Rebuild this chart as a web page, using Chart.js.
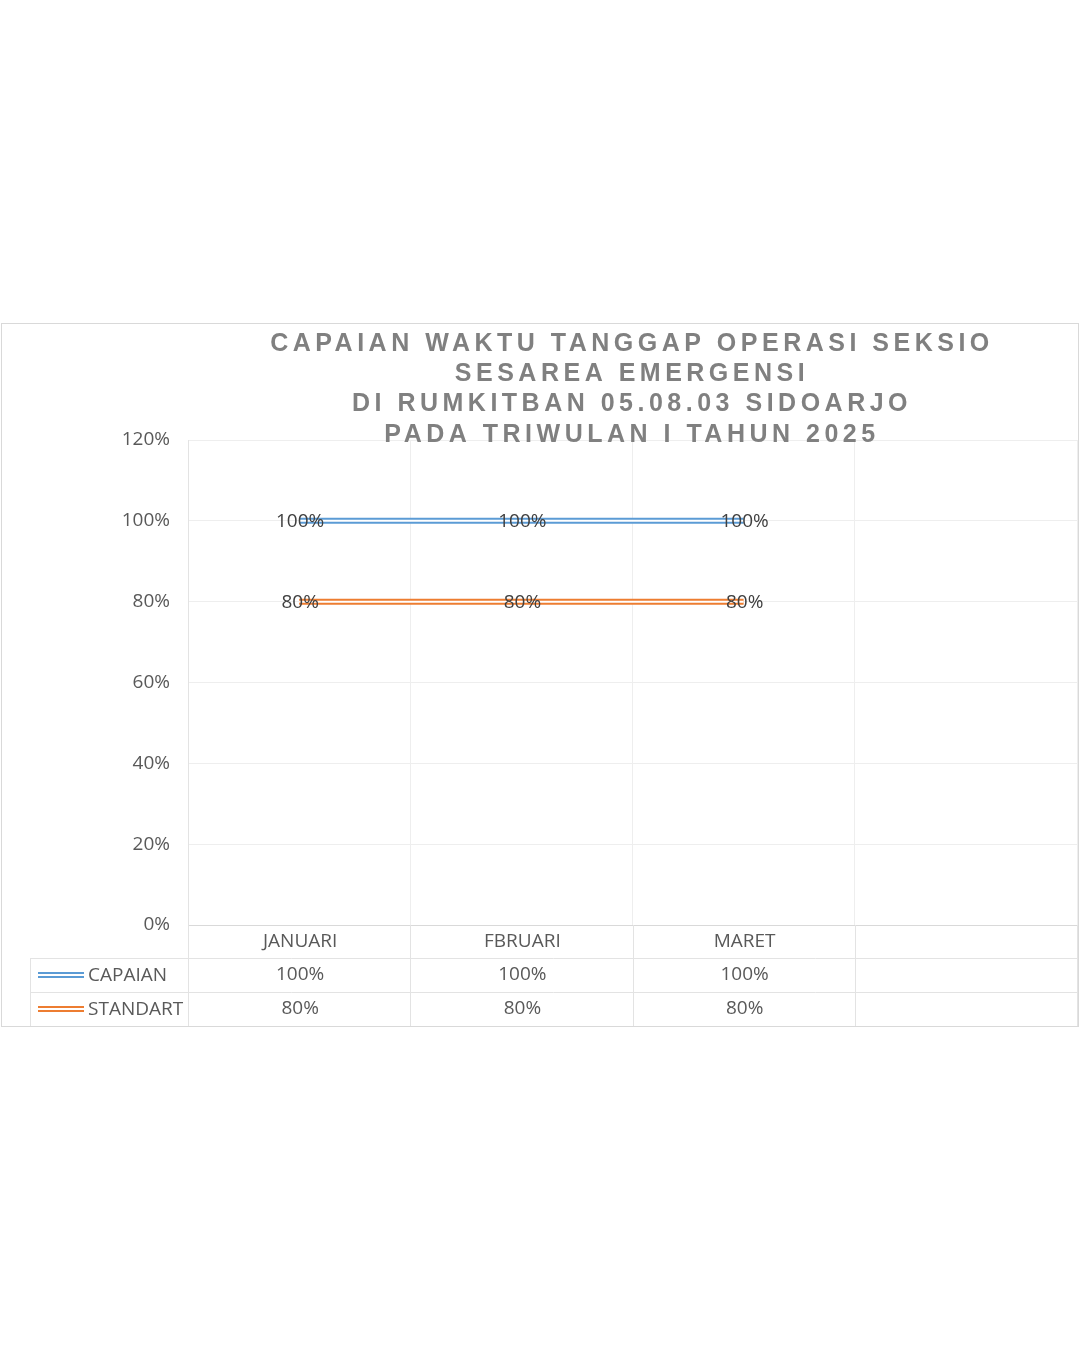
<!DOCTYPE html>
<html>
<head>
<meta charset="utf-8">
<script src="https://cdn.jsdelivr.net/npm/chart.js@4"></script>
<style>
    body { margin: 0; background: #fff; width: 1080px; height: 1350px; position: relative; }
    #box { position: absolute; left: 1px; top: 323px; width: 1078px; height: 704px; border: 1px solid #d9d9d9; box-sizing: border-box; }
</style>
</head>
<body>
<div id="box"><canvas id="waktuChart"></canvas></div>
<script>
const titleLines = [
    'CAPAIAN WAKTU TANGGAP OPERASI SEKSIO',
    'SESAREA EMERGENSI',
    'DI RUMKITBAN 05.08.03 SIDOARJO',
    'PADA TRIWULAN I TAHUN 2025'
];
const months = ['JANUARI', 'FBRUARI', 'MARET', ''];
const capaian = [100, 100, 100, null];
const standart = [80, 80, 80, null];
const yTicks = [0, 20, 40, 60, 80, 100, 120];

const seriesNames = ['CAPAIAN', 'STANDART'];
const seriesColors = ['#5b9bd5', '#ed7d31'];
const textFont = '"Open Sans", sans-serif';
const lineGrey = '#e3e3e3';

// Excel style double line + value labels centred on the points
const doubleLinePlugin = {
    id: 'doubleLine',
    afterDatasetsDraw(chart) {
        const ctx = chart.ctx;
        chart.data.datasets.forEach((ds, i) => {
            const pts = chart.getDatasetMeta(i).data.filter((p, j) => ds.data[j] !== null);
            ctx.save();
            ctx.strokeStyle = '#ffffff';
            ctx.lineWidth = 2;
            ctx.beginPath();
            pts.forEach((p, j) => j === 0 ? ctx.moveTo(p.x, p.y) : ctx.lineTo(p.x, p.y));
            ctx.stroke();
            ctx.restore();
        });
        chart.data.datasets.forEach((ds, i) => {
            const meta = chart.getDatasetMeta(i);
            ctx.save();
            ctx.font = '19px ' + textFont;
            ctx.fillStyle = '#404040';
            ctx.textAlign = 'center';
            ctx.textBaseline = 'middle';
            meta.data.forEach((p, j) => {
                if (ds.data[j] === null) return;
                ctx.fillText(ds.data[j] + '%', p.x + 1, p.y + 1);
            });
            ctx.restore();
        });
    }
};

// title with letter spacing and data table below the plot
const tablePlugin = {
    id: 'dataTable',
    afterDraw(chart) {
        const ctx = chart.ctx;
        const area = chart.chartArea;
        const x = chart.scales.x;
        const colW = area.width / months.length;
        const rowTop = area.bottom;
        const rowH = [33, 34, 34];
        const legendLeft = 28;

        ctx.save();
        ctx.font = 'bold 25px "Liberation Sans", Arial, sans-serif';
        ctx.fillStyle = '#808080';
        ctx.letterSpacing = '4.5px';
        ctx.textAlign = 'center';
        ctx.textBaseline = 'middle';
        titleLines.forEach((t, i) => ctx.fillText(t, 630, 20 + i * 30.3));
        ctx.restore();

        ctx.save();
        ctx.strokeStyle = lineGrey;
        ctx.lineWidth = 1;
        // horizontal rules
        let y = rowTop;
        const ys = [y];
        rowH.forEach(h => { y += h; ys.push(y); });
        ctx.beginPath();
        ctx.moveTo(legendLeft, ys[1] + 0.5); ctx.lineTo(area.right, ys[1] + 0.5);
        ctx.moveTo(legendLeft, ys[2] + 0.5); ctx.lineTo(area.right, ys[2] + 0.5);
        // vertical rules
        for (let i = 0; i <= months.length; i++) {
            const vx = Math.round(area.left + i * colW) + 0.5;
            ctx.moveTo(vx, rowTop); ctx.lineTo(vx, ys[3]);
        }
        ctx.moveTo(legendLeft + 0.5, ys[1]); ctx.lineTo(legendLeft + 0.5, ys[3]);
        ctx.stroke();

        ctx.font = '19px ' + textFont;
        ctx.fillStyle = '#595959';
        ctx.textAlign = 'center';
        ctx.textBaseline = 'middle';
        months.forEach((m, i) => {
            const cx = x.getPixelForValue(i) + 1;
            ctx.fillText(m, cx, (ys[0] + ys[1]) / 2);
            if (capaian[i] !== null) ctx.fillText(capaian[i] + '%', cx, (ys[1] + ys[2]) / 2);
            if (standart[i] !== null) ctx.fillText(standart[i] + '%', cx, (ys[2] + ys[3]) / 2);
        });

        seriesNames.forEach((name, i) => {
            const cy = (ys[i + 1] + ys[i + 2]) / 2;
            ctx.strokeStyle = seriesColors[i];
            ctx.lineWidth = 6;
            ctx.beginPath();
            ctx.moveTo(36, cy); ctx.lineTo(82, cy);
            ctx.stroke();
            ctx.strokeStyle = '#ffffff';
            ctx.lineWidth = 2;
            ctx.beginPath();
            ctx.moveTo(36, cy); ctx.lineTo(82, cy);
            ctx.stroke();
            ctx.textAlign = 'left';
            ctx.fillText(name, 86, cy + 1);
        });
        ctx.restore();
    }
};

const chartCtx = document.getElementById('waktuChart').getContext('2d');

new Chart(chartCtx, {
    type: 'line',
    data: {
        labels: months,
        datasets: [{
            label: seriesNames[0],
            data: capaian,
            borderColor: seriesColors[0],
            borderWidth: 6,
            borderCapStyle: 'butt',
            pointRadius: 0,
            tension: 0
        }, {
            label: seriesNames[1],
            data: standart,
            borderColor: seriesColors[1],
            borderWidth: 6,
            borderCapStyle: 'butt',
            pointRadius: 0,
            tension: 0
        }]
    },
    options: {
        responsive: true,
        maintainAspectRatio: false,
        animation: false,
        layout: { padding: { top: 116, right: 1, bottom: 0, left: 0 } },
        plugins: {
            legend: { display: false },
            title: { display: false },
            tooltip: { enabled: false }
        },
        scales: {
            x: {
                offset: true,
                ticks: { display: false },
                grid: { offset: true, color: '#eeeeee', drawTicks: false },
                border: { color: '#d9d9d9' },
                afterFit(scale) { scale.height = 101; }
            },
            y: {
                min: 0,
                max: 120,
                afterBuildTicks(scale) { scale.ticks = yTicks.map(v => ({ value: v })); },
                ticks: {
                    padding: 18,
                    color: '#595959',
                    font: { family: textFont, size: 19 },
                    callback: v => v + '%'
                },
                grid: { color: '#eeeeee', drawTicks: false },
                border: { color: lineGrey },
                afterFit(scale) { scale.width = 186; }
            }
        }
    },
    plugins: [doubleLinePlugin, tablePlugin]
});
</script>
</body>
</html>
